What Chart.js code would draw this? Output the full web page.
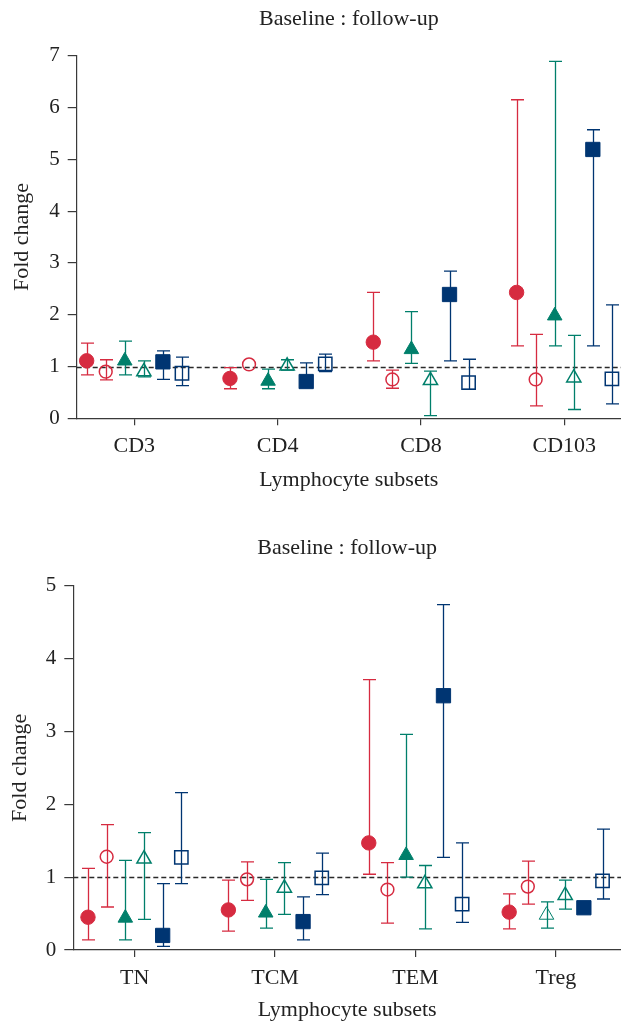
<!DOCTYPE html>
<html>
<head>
<meta charset="utf-8">
<script src="https://cdn.jsdelivr.net/npm/chart.js@4.4.1/dist/chart.umd.min.js"></script>
<style>
  html, body { margin: 0; padding: 0; background: #fff; }
  canvas { display: block; }
</style>
</head>
<body>
<canvas id="topChart" width="621" height="512"></canvas>
<canvas id="bottomChart" width="621" height="512"></canvas>
<script>
// each point: [fold change, lower error, upper error]
const topCategories = ['CD3', 'CD4', 'CD8', 'CD103'];
const topA = [[1.11, 0.84, 1.45], [0.77, 0.57, 0.98], [1.47, 1.11, 2.43], [2.43, 1.40, 6.15]];
const topB = [[0.90, 0.74, 1.13], [1.04, 1.04, 1.04], [0.75, 0.58, 0.93], [0.75, 0.24, 1.62]];
const topC = [[1.11, 0.84, 1.49], [0.72, 0.57, 0.95], [1.33, 1.06, 2.06], [1.98, 1.40, 6.89]];
const topD = [[0.90, 0.80, 1.11], [1.01, 0.93, 1.13], [0.73, 0.05, 0.91], [0.78, 0.17, 1.60]];
const topE = [[1.09, 0.75, 1.30], [0.71, 0.65, 1.07], [2.39, 1.11, 2.84], [5.19, 1.40, 5.57]];
const topF = [[0.87, 0.63, 1.18], [1.05, 0.90, 1.24], [0.69, 0.56, 1.14], [0.76, 0.28, 2.19]];
const topTicks = [0, 1, 2, 3, 4, 5, 6, 7];

const bottomCategories = ['TN', 'TCM', 'TEM', 'Treg'];
const bottomA = [[0.45, 0.14, 1.12], [0.55, 0.26, 0.96], [1.47, 1.04, 3.71], [0.52, 0.29, 0.77]];
const bottomB = [[1.28, 0.59, 1.72], [0.97, 0.68, 1.21], [0.83, 0.37, 1.20], [0.87, 0.63, 1.22]];
const bottomC = [[0.44, 0.14, 1.23], [0.51, 0.30, 0.97], [1.30, 1.00, 2.96], [0.48, 0.30, 0.66]];
const bottomD = [[1.25, 0.42, 1.61], [0.85, 0.49, 1.20], [0.91, 0.29, 1.16], [0.75, 0.56, 0.96]];
const bottomE = [[0.20, 0.05, 0.91], [0.39, 0.14, 0.73], [3.49, 1.27, 4.74], [0.58, 0.58, 0.58]];
const bottomF = [[1.27, 0.91, 2.16], [0.99, 0.76, 1.33], [0.63, 0.38, 1.47], [0.95, 0.70, 1.66]];
const bottomTicks = [0, 1, 2, 3, 4, 5];

const RED = '#d62b40', TEAL = '#007f6b', NAVY = '#003572';
const FONT = "'Liberation Serif', 'DejaVu Serif', serif";
const SPREAD = 0.133;

const markerStyles = [
  { color: RED, shape: 'circle', filled: true, r: 7.2 },
  { color: RED, shape: 'circle', filled: false, r: 6.4 },
  { color: TEAL, shape: 'triangle', filled: true, r: 8.4 },
  { color: TEAL, shape: 'triangle', filled: false, r: 8.2 },
  { color: NAVY, shape: 'rect', filled: true, r: 10.1 },
  { color: NAVY, shape: 'rect', filled: false, r: 9.4 }
];

function buildDatasets(seriesList, hollowAt) {
  return seriesList.map((series, k) => {
    const st = markerStyles[k];
    const fills = series.map((_, i) =>
      st.filled && !(hollowAt && hollowAt[k] === i) ? st.color : 'rgba(0,0,0,0)');
    return {
      data: series.map((v, i) => ({ x: i + (k - 2.5) * SPREAD, y: v[0], lo: v[1], hi: v[2] })),
      pointStyle: st.shape,
      pointRadius: st.r,
      pointHoverRadius: st.r,
      backgroundColor: fills,
      borderColor: st.color,
      borderWidth: st.filled ? 1 : 1.5,
      showLine: false,
      clip: false
    };
  });
}

const panelDecor = {
  id: 'panelDecor',
  beforeDatasetsDraw(chart) {
    const { ctx, chartArea, scales: { x, y } } = chart;
    ctx.save();
    // reference line at fold change = 1
    const y1 = Math.round(y.getPixelForValue(1)) + 0.5;
    ctx.strokeStyle = '#2a2a2a';
    ctx.lineWidth = 1.4;
    ctx.setLineDash([5, 3]);
    ctx.beginPath();
    ctx.moveTo(chartArea.left, y1);
    ctx.lineTo(chartArea.right, y1);
    ctx.stroke();
    ctx.setLineDash([]);
    // error bars
    chart.data.datasets.forEach(ds => {
      ctx.strokeStyle = ds.borderColor;
      ctx.lineWidth = 1.3;
      ds.data.forEach(p => {
        if (p.lo === p.hi) return;
        const px = Math.round(x.getPixelForValue(p.x)) + 0.5;
        const yl = y.getPixelForValue(p.lo), yh = y.getPixelForValue(p.hi);
        ctx.beginPath();
        ctx.moveTo(px, yl); ctx.lineTo(px, yh);
        ctx.moveTo(px - 6.5, yl); ctx.lineTo(px + 6.5, yl);
        ctx.moveTo(px - 6.5, yh); ctx.lineTo(px + 6.5, yh);
        ctx.stroke();
      });
    });
    ctx.restore();
  },
  afterDraw(chart, args, opts) {
    const { ctx, chartArea } = chart;
    const cx = (chartArea.left + chartArea.right) / 2;
    ctx.save();
    ctx.fillStyle = '#222';
    ctx.font = '22px ' + FONT;
    ctx.textAlign = 'center';
    ctx.textBaseline = 'alphabetic';
    ctx.fillText(opts.title, cx, opts.titleY);
    ctx.fillText(opts.xTitle, cx, opts.xTitleY);
    ctx.translate(opts.yTitleX, (chartArea.top + chartArea.bottom) / 2);
    ctx.rotate(-Math.PI / 2);
    ctx.textBaseline = 'middle';
    ctx.fillText(opts.yTitle, 0, 0);
    ctx.restore();
  }
};

function makeChart(id, cats, seriesList, yTicks, geo, hollowAt) {
  const axisColor = '#3a3a3a';
  return new Chart(document.getElementById(id), {
    type: 'scatter',
    data: { datasets: buildDatasets(seriesList, hollowAt) },
    plugins: [panelDecor],
    options: {
      responsive: false,
      devicePixelRatio: 1,
      animation: false,
      events: [],
      layout: { autoPadding: false, padding: { top: geo.top, left: 0, right: 0, bottom: 0 } },
      plugins: {
        legend: { display: false },
        tooltip: { enabled: false },
        panelDecor: {
          title: 'Baseline : follow-up',
          titleY: geo.titleY,
          xTitle: 'Lymphocyte subsets',
          xTitleY: geo.xTitleY,
          yTitle: 'Fold change',
          yTitleX: geo.yTitleX
        }
      },
      scales: {
        x: {
          type: 'linear',
          min: geo.xMin,
          max: geo.xMax,
          afterBuildTicks: s => { s.ticks = cats.map((_, i) => ({ value: i })); },
          afterFit: s => { s.height = geo.xHeight; },
          ticks: {
            autoSkip: false,
            maxRotation: 0,
            padding: 8,
            color: '#222',
            font: { family: FONT, size: 22 },
            callback: v => cats[Math.round(v)]
          },
          grid: { drawOnChartArea: false, drawTicks: true, tickLength: 7, color: axisColor, lineWidth: 1.2 },
          border: { display: true, color: axisColor, width: 1.2 }
        },
        y: {
          min: yTicks[0],
          max: yTicks[yTicks.length - 1],
          afterBuildTicks: s => { s.ticks = yTicks.map(v => ({ value: v })); },
          afterFit: s => { s.width = geo.yWidth; },
          ticks: {
            padding: 8,
            color: '#222',
            font: { family: FONT, size: 21 }
          },
          grid: { drawOnChartArea: false, drawTicks: true, tickLength: 9, color: axisColor, lineWidth: 1.2 },
          border: { display: true, color: axisColor, width: 1.2 }
        }
      }
    }
  });
}

makeChart('topChart', topCategories, [topA, topB, topC, topD, topE, topF], topTicks, {
  top: 55.7, xHeight: 93.7, yWidth: 76.7, xMin: -0.402, xMax: 3.396,
  titleY: 25, xTitleY: 486, yTitleX: 22
});

makeChart('bottomChart', bottomCategories, [bottomA, bottomB, bottomC, bottomD, bottomE, bottomF], bottomTicks, {
  top: 73.7, xHeight: 74, yWidth: 73.3, xMin: -0.437, xMax: 3.464,
  titleY: 42, xTitleY: 504, yTitleX: 20
}, { 2: 3 });
</script>
</body>
</html>
